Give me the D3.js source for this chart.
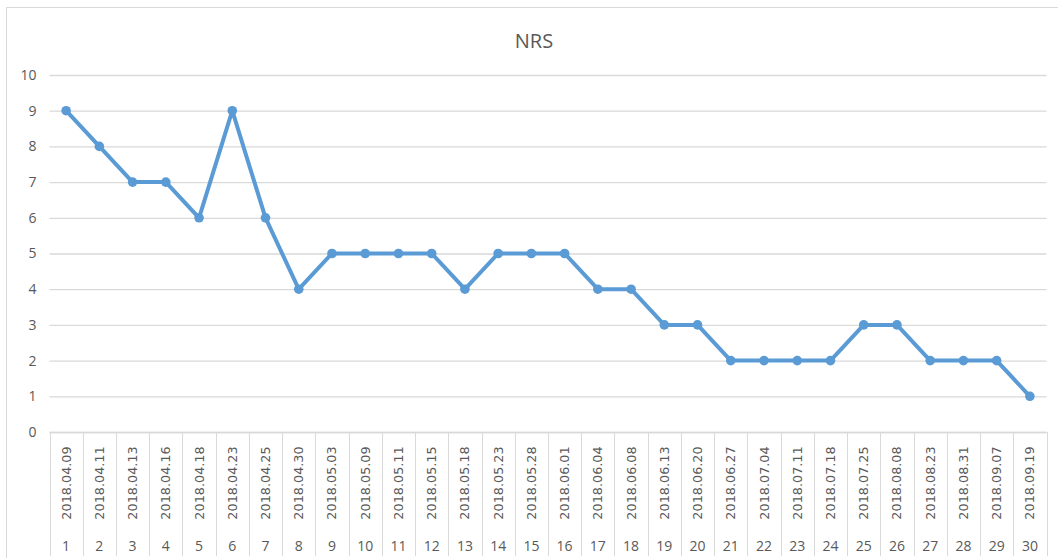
<!DOCTYPE html>
<html>
<head>
<meta charset="utf-8">
<script src="https://cdn.jsdelivr.net/npm/d3@7"></script>
<style>
  html, body { margin: 0; padding: 0; background: #fff; }
  svg { display: block; }
</style>
</head>
<body>
<svg id="chart" width="1058" height="558"></svg>
<script>
const title = "NRS";
const indices = ["1","2","3","4","5","6","7","8","9","10","11","12","13","14","15","16","17","18","19","20","21","22","23","24","25","26","27","28","29","30"];
const dates = ["2018.04.09","2018.04.11","2018.04.13","2018.04.16","2018.04.18","2018.04.23","2018.04.25","2018.04.30","2018.05.03","2018.05.09","2018.05.11","2018.05.15","2018.05.18","2018.05.23","2018.05.28","2018.06.01","2018.06.04","2018.06.08","2018.06.13","2018.06.20","2018.06.27","2018.07.04","2018.07.11","2018.07.18","2018.07.25","2018.08.08","2018.08.23","2018.08.31","2018.09.07","2018.09.19"];
const nrsValues = [9,8,7,7,6,9,6,4,5,5,5,5,4,5,5,5,4,4,3,3,2,2,2,2,3,3,2,2,2,1];
const yTicks = [0,1,2,3,4,5,6,7,8,9,10];

(function () {
const svg = d3.select("#chart");
const pL = 49.5, pR = 1046.5, pT = 75, pB = 432, tableBottom = 556;
const textColor = "#595959", gridColor = "#d9d9d9", lineColor = "#5B9BD5";

// outer border
svg.append("rect").attr("x", 6.5).attr("y", 7.5).attr("width", 1060).attr("height", 560)
  .attr("fill", "none").attr("stroke", gridColor).attr("stroke-width", 1);

const x = d3.scaleBand().domain(indices).range([pL, pR]).padding(0);
const y = d3.scaleLinear().domain([0, 10]).range([pB, pT]);

// title
svg.append("text").attr("x", 534).attr("y", 48).attr("text-anchor", "middle")
  .attr("font-family", "'Open Sans', 'Liberation Sans', sans-serif").attr("font-size", 20)
  .attr("fill", textColor).text(title);

// y axis (gridlines + labels)
const yAxis = d3.axisLeft(y).tickValues(yTicks).tickSize(-(pR - pL)).tickPadding(13).tickFormat(d3.format("d"));
const yg = svg.append("g").attr("transform", `translate(${pL},0)`).call(yAxis);
yg.select(".domain").remove();
yg.selectAll(".tick line").attr("stroke", gridColor).attr("stroke-width", 1.3);
yg.selectAll(".tick text").attr("fill", textColor).attr("font-size", 14)
  .attr("font-family", "'Open Sans', 'Liberation Sans', sans-serif");

// table under axis
const tg = svg.append("g");
tg.append("line").attr("x1", pL).attr("x2", pR).attr("y1", pB + 0.5).attr("y2", pB + 0.5)
  .attr("stroke", gridColor).attr("stroke-width", 1.3);
const bounds = indices.map(d => x(d)).concat([x(indices[indices.length - 1]) + x.bandwidth()]);
tg.selectAll("line.v").data(bounds).enter().append("line").attr("class", "v")
  .attr("x1", d => Math.round(d) + 0.5).attr("x2", d => Math.round(d) + 0.5)
  .attr("y1", pB).attr("y2", tableBottom)
  .attr("stroke", gridColor).attr("stroke-width", 1);

tg.selectAll("text.date").data(dates).enter().append("text").attr("class", "date")
  .attr("transform", (d, i) => `translate(${x(indices[i]) + x.bandwidth() / 2 + 4.5},483) rotate(-90)`)
  .attr("text-anchor", "middle")
  .attr("font-family", "'DejaVu Sans', sans-serif").attr("font-size", 12.8)
  .attr("fill", textColor).text(d => d);

tg.selectAll("text.idx").data(indices).enter().append("text").attr("class", "idx")
  .attr("x", d => x(d) + x.bandwidth() / 2).attr("y", 551)
  .attr("text-anchor", "middle")
  .attr("font-family", "'Open Sans', 'Liberation Sans', sans-serif").attr("font-size", 14)
  .attr("fill", textColor).text(d => d);

// line
const cx = (d, i) => x(indices[i]) + x.bandwidth() / 2;
const line = d3.line().x(cx).y(d => y(d));
svg.append("path").datum(nrsValues).attr("d", line).attr("fill", "none")
  .attr("stroke", lineColor).attr("stroke-width", 4).attr("stroke-linejoin", "round");
svg.selectAll("circle.pt").data(nrsValues).enter().append("circle").attr("class", "pt")
  .attr("cx", cx).attr("cy", d => y(d)).attr("r", 4.8).attr("fill", lineColor);
})();
</script>
</body>
</html>
